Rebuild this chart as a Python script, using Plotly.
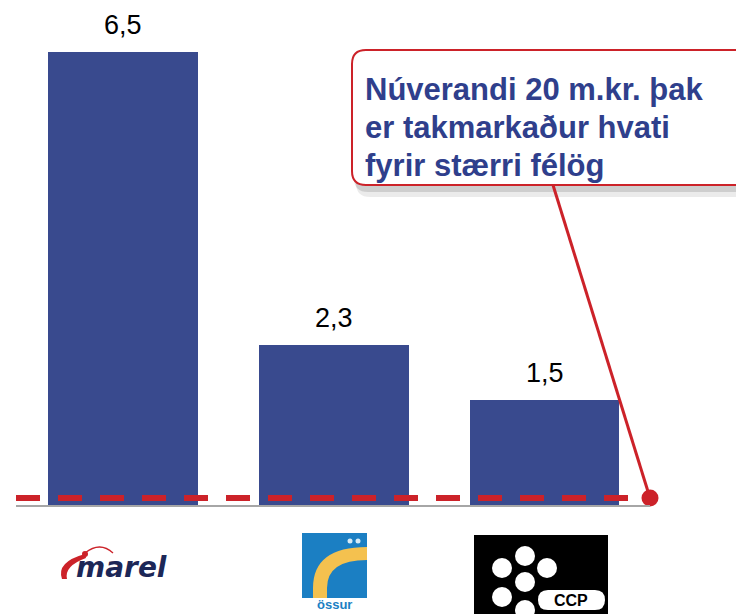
import plotly.graph_objects as go

# Data (bn ISK)
companies = ["Marel", "Össur", "CCP"]
values = [6.5, 2.3, 1.5]
labels = [f"{v:.1f}".replace(".", ",") for v in values]
ceiling = 0.1  # núverandi 20 m.kr. þak
callout_lines = ["Núverandi 20 m.kr. þak", "er takmarkaður hvati", "fyrir stærri félög"]

BAR = "#394A8E"
RED = "#CC2229"
TXT = "#2F3F8C"
FONT = "Arial, Liberation Sans, sans-serif"

# the page body adds an 8px margin, so the figure is a bit smaller than the window
OFF = 8
W, H = 744 - OFF, 614 - OFF
# plot area edges in window pixels
L, R, T, B = 16, 650, 17, 505
x_range = [-0.507, 2.5]
y_range = [0, 7]


# window pixel -> paper helpers for decoration
def px(x):
    return (x - L) / (R - L)


def py(y):
    return (B - y) / (B - T)


def rect(x0, y0, x1, y1, fill):
    return dict(type="rect", xref="paper", yref="paper",
                x0=px(x0), x1=px(x1), y0=py(y1), y1=py(y0),
                fillcolor=fill, line=dict(width=0))


def circle(cx, cy, r, fill):
    return dict(type="circle", xref="paper", yref="paper",
                x0=px(cx - r), x1=px(cx + r), y0=py(cy + r), y1=py(cy - r),
                fillcolor=fill, line=dict(width=0))


def to_path(points):
    s = ""
    for cmd, *c in points:
        xy = [f"{px(c[i]):.5f},{py(c[i + 1]):.5f}" for i in range(0, len(c), 2)]
        s += cmd + " " + " ".join(xy) + " "
    return s.strip()


def round_box(x0, y0, x1, y1, r):
    return to_path([
        ("M", x0 + r, y0), ("L", x1 - r, y0), ("Q", x1, y0, x1, y0 + r),
        ("L", x1, y1 - r), ("Q", x1, y1, x1 - r, y1), ("L", x0 + r, y1),
        ("Q", x0, y1, x0, y1 - r), ("L", x0, y0 + r), ("Q", x0, y0, x0 + r, y0), ("Z",),
    ])


def path(points, fill, line=None):
    return dict(type="path", xref="paper", yref="paper", path=to_path(points),
                fillcolor=fill, line=line or dict(width=0))


def box(x0, y0, x1, y1, r, fill, line=None):
    return dict(type="path", xref="paper", yref="paper", path=round_box(x0, y0, x1, y1, r),
                fillcolor=fill, line=line or dict(width=0))


fig = go.Figure()

fig.add_trace(go.Bar(
    x=list(range(len(companies))), y=values, width=0.71,
    marker=dict(color=BAR, line=dict(width=0)),
    hoverinfo="skip", showlegend=False,
))

# end point of the ceiling line
fig.add_trace(go.Scatter(
    x=[x_range[1]], y=[ceiling], mode="markers",
    marker=dict(color=RED, size=17, line=dict(width=0)),
    cliponaxis=False, showlegend=False, hoverinfo="skip",
))

shapes = []
# callout shadow + box
shapes.append(box(356, 58, 780, 197, 14, "rgba(0,0,0,0.08)"))
shapes.append(box(354, 54, 780, 192, 14, "rgba(0,0,0,0.12)"))
shapes.append(box(352, 50, 780, 185, 14, "white", dict(color=RED, width=2)))
# connector from callout to the ceiling point
shapes.append(dict(type="line", xref="paper", yref="paper",
                   x0=px(553), y0=py(185), x1=1, y1=ceiling / y_range[1],
                   line=dict(color=RED, width=3)))
# ceiling dashed line
shapes.append(dict(type="line", xref="paper", yref="y", x0=0, x1=1, y0=ceiling, y1=ceiling,
                   line=dict(color=RED, width=6, dash="24px,18px")))

# marel logo swoosh
shapes.append(path([("M", 85, 554), ("Q", 56, 562, 62, 579), ("L", 67, 579),
                    ("Q", 64, 566, 86, 558), ("Z",)], RED))
shapes.append(path([("M", 85, 553), ("Q", 100, 541, 113, 553)], "rgba(0,0,0,0)",
                   dict(color=RED, width=1.3)))
shapes.append(circle(85, 554, 3, RED))

# össur logo
shapes.append(rect(302, 533, 367, 598, "#1B7FC3"))
shapes.append(path([("M", 313, 598), ("L", 313, 588), ("Q", 313, 547, 367, 547), ("L", 367, 560),
                    ("Q", 327, 560, 327, 588), ("L", 327, 598), ("Z",)], "#F4C14F"))
shapes.append(circle(350, 541, 2.5, "#D6EBF7"))
shapes.append(circle(358, 541, 2.5, "#D6EBF7"))

# ccp logo
shapes.append(rect(474, 535, 608, 640, "black"))
for cx, cy in [(525, 556), (502, 568), (547, 568), (525, 582), (502, 597), (525, 610)]:
    shapes.append(circle(cx, cy, 10, "white"))
shapes.append(box(538, 590, 605, 610, 10, "white"))

annotations = []
for i, (v, lab) in enumerate(zip(values, labels)):
    annotations.append(dict(x=i, y=v, text=lab, showarrow=False, xanchor="center",
                            yanchor="bottom", yshift=10,
                            font=dict(family=FONT, size=27, color="black")))

for k, line in enumerate(callout_lines):
    annotations.append(dict(xref="paper", yref="paper", x=px(363), y=py(70 + 38 * k),
                            xanchor="left", yanchor="top", text=line, showarrow=False,
                            font=dict(family=FONT, size=31, color=TXT, weight="bold")))

annotations.append(dict(xref="paper", yref="paper", x=px(122), y=py(567), xanchor="center",
                        yanchor="middle", text="marel", showarrow=False,
                        font=dict(family="DejaVu Sans", size=28, color="#1C2757",
                                  weight="bold", style="italic")))
annotations.append(dict(xref="paper", yref="paper", x=px(334), y=py(614), xanchor="center",
                        yanchor="bottom", text="össur", showarrow=False,
                        font=dict(family=FONT, size=13, color="#1B7FC3", weight="bold")))
annotations.append(dict(xref="paper", yref="paper", x=px(571), y=py(600), xanchor="center",
                        yanchor="middle", text="CCP", showarrow=False,
                        font=dict(family=FONT, size=16, color="black", weight="bold")))

fig.update_layout(
    width=W, height=H,
    margin=dict(l=L - OFF, r=W - (R - OFF), t=T - OFF, b=H - (B - OFF), pad=0),
    paper_bgcolor="white", plot_bgcolor="white",
    xaxis=dict(range=x_range, showline=True, linecolor="#A6A6A6", linewidth=2,
               showgrid=False, zeroline=False, showticklabels=False, ticks=""),
    yaxis=dict(range=y_range, visible=False, showgrid=False, zeroline=False),
    shapes=shapes, annotations=annotations,
    bargap=0,
)

fig.write_html("out.html")
